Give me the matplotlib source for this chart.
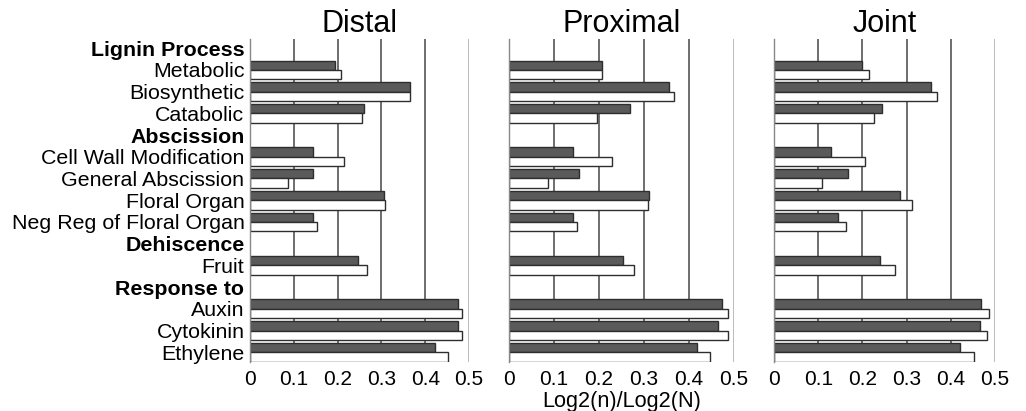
import matplotlib.pyplot as plt
import numpy as np

plt.rcParams['font.family'] = ['Liberation Sans', 'DejaVu Sans']

# Row labels (top to bottom); headers are bold
row_labels = ['Lignin Process', 'Metabolic', 'Biosynthetic', 'Catabolic',
              'Abscission', 'Cell Wall Modification', 'General Abscission',
              'Floral Organ', 'Neg Reg of Floral Organ',
              'Dehiscence', 'Fruit',
              'Response to', 'Auxin', 'Cytokinin', 'Ethylene']
header_rows = [0, 4, 9, 11]
bar_rows = [1, 2, 3, 5, 6, 7, 8, 10, 12, 13, 14]

panels = ['Distal', 'Proximal', 'Joint']

distal_dark = [0.194, 0.366, 0.260, 0.144, 0.144, 0.307, 0.144, 0.246, 0.475, 0.475, 0.423]
distal_light = [0.208, 0.365, 0.255, 0.214, 0.086, 0.309, 0.153, 0.268, 0.484, 0.483, 0.452]

proximal_dark = [0.206, 0.355, 0.269, 0.143, 0.156, 0.312, 0.143, 0.253, 0.473, 0.465, 0.418]
proximal_light = [0.207, 0.366, 0.195, 0.228, 0.086, 0.308, 0.152, 0.278, 0.486, 0.486, 0.447]

joint_dark = [0.199, 0.355, 0.244, 0.128, 0.167, 0.286, 0.144, 0.240, 0.469, 0.467, 0.420]
joint_light = [0.216, 0.368, 0.226, 0.207, 0.108, 0.312, 0.162, 0.273, 0.487, 0.483, 0.453]

dark_vals = [distal_dark, proximal_dark, joint_dark]
light_vals = [distal_light, proximal_light, joint_light]

xticks = [0, 0.1, 0.2, 0.3, 0.4, 0.5]
xtick_labels = ['0', '0.1', '0.2', '0.3', '0.4', '0.5']

W, H = 1026, 411
fig = plt.figure(figsize=(W / 100, H / 100), dpi=100)

# axes boxes in pixels (left, right)
boxes = [(250, 469), (509, 734), (774, 995)]
top_px, bottom_px = 39, 362

bar_h = 0.43
dark_color = '#5a5a5a'
edge_color = '#2e2e2e'

for i, name in enumerate(panels):
    l, r = boxes[i]
    ax = fig.add_axes([l / W, 1 - bottom_px / H, (r - l) / W, (bottom_px - top_px) / H])
    y = np.array(bar_rows, dtype=float)

    # grid lines
    for g in [0.1, 0.2, 0.3, 0.4]:
        ax.axvline(g, color='#555555', lw=1.2, zorder=0)
    ax.axvline(0.5, color='#bbbbbb', lw=1.4, zorder=0)

    ax.barh(y - bar_h / 2, dark_vals[i], height=bar_h, color=dark_color,
            edgecolor=edge_color, linewidth=1.0, zorder=2)
    ax.barh(y + bar_h / 2, light_vals[i], height=bar_h, color='white',
            edgecolor=edge_color, linewidth=1.0, zorder=2)

    ax.set_xlim(0, 0.5)
    ax.set_ylim(14.45, -0.42)
    ax.set_xticks(xticks)
    ax.set_xticklabels(xtick_labels, fontsize=15)
    ax.tick_params(axis='x', length=0, pad=6)
    ax.tick_params(axis='y', length=0)

    for s in ['top', 'right', 'bottom']:
        ax.spines[s].set_visible(False)
    ax.spines['left'].set_color('#888888')
    ax.spines['left'].set_linewidth(1.0)

    ax.set_title(name, fontsize=22, pad=2)

    if i == 0:
        ax.set_yticks(range(len(row_labels)))
        ax.set_yticklabels(row_labels, fontsize=15.4)
        for k, t in enumerate(ax.get_yticklabels()):
            if k in header_rows:
                t.set_fontweight('bold')
        ax.tick_params(axis='y', pad=4)
    else:
        ax.set_yticks([])

    if i == 1:
        ax.set_xlabel('Log2(n)/Log2(N)', fontsize=15.6, labelpad=1)

fig.savefig('out.png', dpi=100)
